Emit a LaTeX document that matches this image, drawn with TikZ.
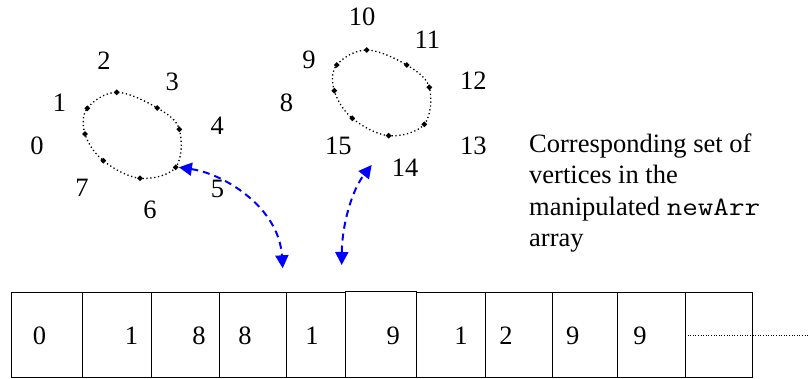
\documentclass[tikz,border=0pt]{standalone}
\usepackage{fontspec}
\setmainfont{Liberation Serif}
\usetikzlibrary{arrows.meta,shapes.geometric}
\begin{document}
\begin{tikzpicture}[x=1pt,y=-1pt,
  lbl/.style={inner sep=0pt,font=\fontsize{26.5}{31.5}\selectfont},
  txt/.style={inner sep=0pt,anchor=base west,font=\fontsize{26.5}{31.5}\selectfont},
  vdot/.style={diamond,fill=black,inner sep=0pt,minimum size=6pt},
  ring/.style={black,line width=1.3pt,dash pattern=on 1.3pt off 2.6pt},
  cell/.style={black,line width=1pt},
  link/.style={blue,line width=2pt,dash pattern=on 7pt off 5pt,
    {Triangle[length=13pt,width=13pt]}-{Triangle[length=13pt,width=13pt]}}]
\useasboundingbox (0,0) rectangle (809,379);
% left ring vertices
\node[vdot] (la) at (116.7,92.3) {};
\node[vdot] (lb) at (157.3,108) {};
\node[vdot] (lc) at (179.3,129.3) {};
\node[vdot] (ld) at (175.7,167.3) {};
\node[vdot] (le) at (140,178.3) {};
\node[vdot] (lf) at (103.3,160.7) {};
\node[vdot] (lg) at (85,134) {};
\node[vdot] (lh) at (87.3,108.3) {};
\draw[ring] plot[smooth cycle,tension=0.6] coordinates {(la) (lb) (lc) (ld) (le) (lf) (lg) (lh)};
% right ring vertices
\node[vdot] (ra) at (366.7,50) {};
\node[vdot] (rb) at (406.7,65) {};
\node[vdot] (rc) at (429.3,87.3) {};
\node[vdot] (rd) at (424.3,124.3) {};
\node[vdot] (re) at (388.7,135.7) {};
\node[vdot] (rf) at (352.3,118.3) {};
\node[vdot] (rg) at (334.3,90.7) {};
\node[vdot] (rh) at (336.7,65) {};
\draw[ring] plot[smooth cycle,tension=0.6] coordinates {(ra) (rb) (rc) (rd) (re) (rf) (rg) (rh)};
% left labels
\node[lbl] (n0) at (37,146) {0};
\node[lbl] (n1) at (59.5,103) {1};
\node[lbl] (n2) at (104,60.5) {2};
\node[lbl] (n3) at (172.3,82) {3};
\node[lbl] (n4) at (217.3,126) {4};
\node[lbl] (n5) at (217.5,189) {5};
\node[lbl] (n6) at (150,210) {6};
\node[lbl] (n7) at (82,188.3) {7};
% right labels
\node[lbl] (n8) at (286.5,103) {8};
\node[lbl] (n9) at (309,60) {9};
\node[lbl] (n10) at (362,17) {10};
\node[lbl] (n11) at (427.3,40) {11};
\node[lbl] (n12) at (473.3,81) {12};
\node[lbl] (n13) at (473.3,146) {13};
\node[lbl] (n14) at (405,167.5) {14};
\node[lbl] (n15) at (338.3,145.5) {15};
% caption
\node[txt] (t1) at (529,152.7) {Corresponding set of};
\node[txt] (t2) at (529,184) {vertices in the};
\node[txt] (t3) at (529,215.3) {manipulated \scalebox{1.14}[1]{\ttfamily newArr}};
\node[txt] (t4) at (529,246.7) {array};
% array cells
\draw[cell] (11.7,292.3) rectangle (82.7,377.7);
\draw[cell] (82.7,292.3) rectangle (151,377.7);
\draw[cell] (151,292.3) rectangle (219,377.7);
\draw[cell] (219,292.3) rectangle (286.7,377.7);
\draw[cell] (286.7,292.3) rectangle (345,377.7);
\draw[cell] (345,291.5) rectangle (416.7,377.7);
\draw[cell] (416.7,292.3) rectangle (485,377.7);
\draw[cell] (485,292.3) rectangle (552.7,377.7);
\draw[cell] (552.7,292.3) rectangle (617.3,377.7);
\draw[cell] (617.3,292.3) rectangle (685,377.7);
\draw[cell] (685,292.3) -- (752.7,292.3) -- (752.7,377.7) -- (685,377.7);
\draw[ring,line width=1pt,dash pattern=on 1pt off 1.6pt] (685,292.3) -- (685,377.7);
\draw[ring,line width=1pt,dash pattern=on 1pt off 1.6pt] (685,335.7) -- (809,335.7);
% array values
\node[lbl] (a0) at (39.5,336) {0};
\node[lbl] (a1) at (131.5,336) {1};
\node[lbl] (a2) at (199,336) {8};
\node[lbl] (a3) at (245,336) {8};
\node[lbl] (a4) at (312,336) {1};
\node[lbl] (a5) at (393.3,336) {9};
\node[lbl] (a6) at (461,336) {1};
\node[lbl] (a7) at (506,336) {2};
\node[lbl] (a8) at (572.7,336) {9};
\node[lbl] (a9) at (640,336) {9};
% connectors
\coordinate (pA) at (282.7,268.3);
\coordinate (pB) at (341.7,265);
\coordinate (pC) at (371.7,165);
\draw[link] (ld.east) .. controls (225,174) and (279,208) .. (pA);
\draw[link] (pB) .. controls (342,225) and (352,190) .. (pC);
\end{tikzpicture}
\end{document}
